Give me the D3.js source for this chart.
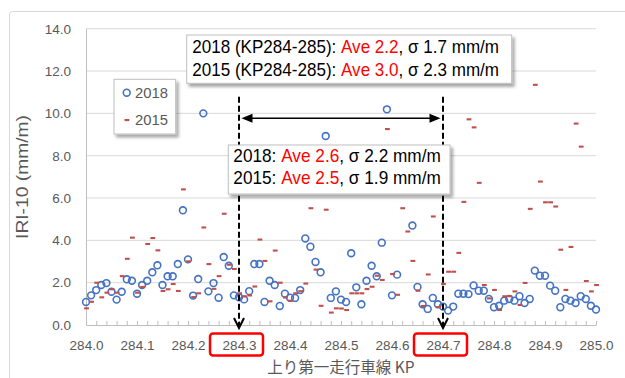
<!DOCTYPE html>
<html><head><meta charset="utf-8">
<script src="https://cdn.jsdelivr.net/npm/d3@7"></script>
<style>
body{margin:0;background:#fff;}
svg{display:block;font-family:"Liberation Sans",Arial,sans-serif;}
</style>
</head><body>
<svg id="c" width="625" height="378"></svg>
<script>
// ---------- data ----------
const kp = d3.range(101).map(i => +(284 + i * 0.01).toFixed(2));
const iri2018 = [1.09,1.40,1.65,1.89,1.98,1.57,1.20,1.57,2.16,2.09,
 1.48,1.89,2.09,2.49,2.82,1.89,2.30,2.30,2.88,5.42,
 3.10,1.39,2.17,10.00,1.59,1.98,1.29,3.21,2.80,1.40,
 1.31,1.21,1.60,2.88,2.88,1.09,2.09,1.89,0.90,1.48,
 1.29,1.28,1.65,4.09,3.70,2.98,2.49,8.93,1.28,1.59,
 1.20,1.09,3.39,1.78,0.98,2.09,2.80,2.30,3.89,10.19,
 1.40,2.38,null,null,4.70,1.80,0.98,0.76,1.28,0.98,
 0.87,0.68,0.87,1.48,1.48,1.46,1.87,1.62,1.62,1.23,
 0.84,0.91,1.15,1.23,1.15,1.36,1.04,1.23,2.57,2.33,
 2.33,1.86,1.62,0.84,1.23,1.15,1.04,1.36,1.23,0.91,
 0.73];
const iri2015 = [0.79,1.10,2.00,1.31,1.53,1.69,1.53,2.31,3.13,4.13,
 1.53,1.80,3.83,4.11,3.53,1.61,1.69,1.94,1.61,6.41,
 3.01,1.32,1.50,4.61,2.88,1.71,2.31,5.26,2.85,2.65,
 1.50,1.35,1.40,1.82,4.04,3.03,1.12,3.52,2.00,1.30,
 1.15,1.50,1.60,1.96,5.52,2.62,0.91,5.45,0.59,0.79,
 0.78,0.71,1.50,1.50,1.50,1.70,1.81,2.33,2.13,9.26,
 2.41,1.43,5.52,4.42,3.03,1.62,0.90,2.39,5.13,0.85,
 1.94,2.52,2.52,3.41,5.82,9.72,9.34,6.72,1.89,1.26,
 1.66,0.71,1.36,1.36,1.59,0.95,1.99,5.49,11.35,6.78,
 5.80,5.80,5.60,3.56,1.66,3.69,9.52,8.43,2.08,1.59,
 1.89];
const yTicks = [0,2,4,6,8,10,12,14];
const xTicks = [284.0,284.1,284.2,284.3,284.4,284.5,284.6,284.7,284.8,284.9,285.0];
const minorTicks = d3.range(51).map(i => +(284 + i * 0.02).toFixed(2));
const markedKP = [284.3, 284.7];
const seriesNames = ["2018", "2015"];
const statsAll = [
  {year:"2018", ave:"2.2", sd:"1.7"},
  {year:"2015", ave:"3.0", sd:"2.3"}
];
const statsSection = [
  {year:"2018", ave:"2.6", sd:"2.2"},
  {year:"2015", ave:"2.5", sd:"1.9"}
];
const xTitle = "上り第一走行車線 KP";
const yTitle = "IRI-10 (mm/m)";

// ---------- setup ----------
const svg = d3.select("#c");
const x = d3.scaleLinear().domain([284, 285]).range([86, 596]);
const y = d3.scaleLinear().domain([0, 14]).range([325, 28.7]);
const C2018 = "#4472c4", C2015 = "#c0504d", GRID = "#d9d9d9", TXT = "#595959";

const defs = svg.append("defs");
const f = defs.append("filter").attr("id","sh").attr("x","-10%").attr("y","-20%").attr("width","130%").attr("height","160%");
f.append("feDropShadow").attr("dx",2.5).attr("dy",3).attr("stdDeviation",1.6)
  .attr("flood-color","#000").attr("flood-opacity",0.35);

function addText(parent, o) {
  const g = parent.append("g");
  const t = g.append("text").attr("font-size", o.size).attr("text-anchor", o.anchor || "start")
    .attr("fill", o.fill || "#000");
  if (o.family) t.attr("font-family", o.family);
  o.parts.forEach(p => t.append("tspan").text(p.t).attr("fill", p.c || o.fill || "#000"));
  let k = 1;
  if (o.target) k = o.target / t.node().getComputedTextLength();
  g.attr("transform", `translate(${o.x},${o.y})` + (o.rotate ? ` rotate(${o.rotate})` : "") + ` scale(${k},1)`);
  return g;
}

// chart border
svg.append("rect").attr("x",9.5).attr("y",11.5).attr("width",660).attr("height",420).attr("rx",3)
  .attr("fill","none").attr("stroke",GRID);

// gridlines
svg.append("g").selectAll("line").data(yTicks.filter(d => d > 0)).join("line")
  .attr("x1", x(284)).attr("x2", x(285)).attr("y1", d => y(d)).attr("y2", d => y(d))
  .attr("stroke", GRID).attr("stroke-width", 1);

// y axis
const ya = svg.append("g").attr("transform", `translate(${x(284)},0)`)
  .call(d3.axisLeft(y).tickValues(yTicks).tickFormat(d3.format(".1f")).tickSize(0).tickPadding(15));
ya.select(".domain").attr("stroke", "#bfbfbf");
ya.selectAll("text").attr("font-size", 13.5).attr("fill", TXT).attr("font-family", '"Liberation Sans",Arial,sans-serif');

// x axis with minor ticks
const xm = svg.append("g").attr("transform", `translate(0,${y(0)})`)
  .call(d3.axisBottom(x).tickValues(minorTicks).tickSize(-4).tickFormat("").tickSizeOuter(0));
xm.select(".domain").attr("stroke", "#bfbfbf");
xm.selectAll(".tick line").attr("stroke", "#bfbfbf");
const xa = svg.append("g").attr("transform", `translate(0,${y(0)})`)
  .call(d3.axisBottom(x).tickValues(xTicks).tickFormat(d3.format(".1f")).tickSize(0).tickPadding(15));
xa.select(".domain").remove();
xa.selectAll("text").attr("font-size", 13.5).attr("fill", TXT).attr("font-family", '"Liberation Sans",Arial,sans-serif');

// axis titles
addText(svg, {x: 341, y: 373, parts:[{t:xTitle}], size: 15.5, anchor:"middle", fill: TXT,
  family:'"Noto Sans CJK JP","Noto Sans",sans-serif'});
addText(svg, {x: 28, y: 177, parts:[{t:yTitle}], size: 17, anchor:"middle", fill: TXT, rotate: -90, target: 124});

// data
const pts18 = kp.map((k, i) => ({k, v: iri2018[i]})).filter(d => d.v != null);
const pts15 = kp.map((k, i) => ({k, v: iri2015[i]})).filter(d => d.v != null);
svg.append("g").selectAll("circle").data(pts18).join("circle")
  .attr("cx", d => x(d.k)).attr("cy", d => y(d.v)).attr("r", 3.4)
  .attr("fill", "none").attr("stroke", C2018).attr("stroke-width", 1.6);
svg.append("g").selectAll("rect").data(pts15).join("rect")
  .attr("x", d => x(d.k) - 1.9).attr("y", d => y(d.v) - 1).attr("width", 4.8).attr("height", 2.1)
  .attr("fill", C2015);

// dashed vertical lines with open arrowheads
const vg = svg.append("g");
markedKP.forEach(k => {
  const xx = x(k);
  vg.append("line").attr("x1", xx).attr("x2", xx).attr("y1", 96.7).attr("y2", 327)
    .attr("stroke", "#000").attr("stroke-width", 2).attr("stroke-dasharray", "6,3");
  vg.append("path").attr("d", `M${xx-5},${318}L${xx},${328}L${xx+5},${318}`)
    .attr("fill", "none").attr("stroke", "#000").attr("stroke-width", 2);
});
// horizontal double arrow
const ax1 = x(markedKP[0]) + 2.5, ax2 = x(markedKP[1]) - 2.5, ay = 118.3;
vg.append("line").attr("x1", ax1 + 8).attr("x2", ax2 - 8).attr("y1", ay).attr("y2", ay)
  .attr("stroke", "#000").attr("stroke-width", 1.6);
vg.append("path").attr("d", `M${ax1},${ay}L${ax1+11},${ay-4.5}L${ax1+11},${ay+4.5}Z`).attr("fill", "#000");
vg.append("path").attr("d", `M${ax2},${ay}L${ax2-11},${ay-4.5}L${ax2-11},${ay+4.5}Z`).attr("fill", "#000");

// red highlight boxes around tick labels
svg.append("g").selectAll("rect").data(markedKP).join("rect")
  .attr("x", d => x(d) - 29).attr("y", 333.5).attr("width", 53).attr("height", 22).attr("rx", 3)
  .attr("fill", "none").attr("stroke", "#ff0000").attr("stroke-width", 2.5);

// annotation box: whole section
svg.append("rect").attr("x", 186.7).attr("y", 35).attr("width", 325).attr("height", 48.3)
  .attr("fill", "#fff").attr("stroke", "#bfbfbf").attr("filter", "url(#sh)");
statsAll.forEach((s, i) => {
  addText(svg, {x: 192.3, y: 52.7 + i * 23, size: 17.5, target: 306,
    parts: [{t: `${s.year} (KP284-285): `}, {t: `Ave ${s.ave}`, c: "#ff0000"}, {t: `, σ ${s.sd} mm/m`}]});
});

// annotation box: marked section
svg.append("rect").attr("x", 228.3).attr("y", 145).attr("width", 221.7).attr("height", 49)
  .attr("fill", "#fff").attr("stroke", "#bfbfbf").attr("filter", "url(#sh)");
statsSection.forEach((s, i) => {
  addText(svg, {x: 233.3, y: 161.7 + i * 22.6, size: 17.5, target: 206.7,
    parts: [{t: `${s.year}: `}, {t: `Ave ${s.ave}`, c: "#ff0000"}, {t: `, σ ${s.sd} mm/m`}]});
});

// legend
const lg = svg.append("g");
lg.append("rect").attr("x", 114).attr("y", 79.3).attr("width", 61.7).attr("height", 54.7)
  .attr("fill", "#fff").attr("stroke", "#bfbfbf").attr("filter", "url(#sh)");
lg.append("circle").attr("cx", 126.7).attr("cy", 92.7).attr("r", 3.4)
  .attr("fill", "none").attr("stroke", C2018).attr("stroke-width", 1.6);
lg.append("rect").attr("x", 124.5).attr("y", 119).attr("width", 4.8).attr("height", 2.1).attr("fill", C2015);
seriesNames.forEach((n, i) => {
  addText(lg, {x: 135, y: 97.7 + i * 27.3, size: 15, fill: TXT, parts: [{t: n}], target: 33});
});
</script>
</body></html>
